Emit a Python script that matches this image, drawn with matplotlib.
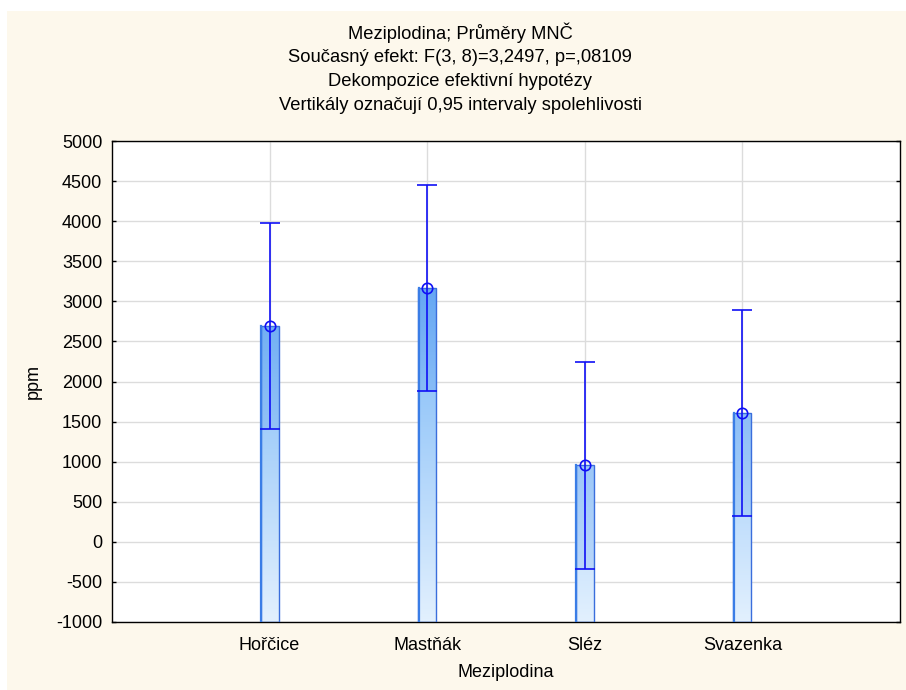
import numpy as np
import matplotlib
matplotlib.use("Agg")
import matplotlib.pyplot as plt
from matplotlib.colors import LinearSegmentedColormap, Normalize
from matplotlib.patches import Rectangle

plt.rcParams['font.family'] = ['Liberation Sans', 'DejaVu Sans']

# Least-squares means of ppm per cover crop with 0.95 confidence intervals
categories = ["Hořčice", "Mastňák", "Sléz", "Svazenka"]
means = [2690, 3165, 955, 1603]
ci_lower = [1406, 1882, -335, 320]
ci_upper = [3974, 4448, 2245, 2886]

title_lines = [
    "Meziplodina; Průměry MNČ",
    "Současný efekt: F(3, 8)=3,2497, p=,08109",
    "Dekompozice efektivní hypotézy",
    "Vertikály označují 0,95 intervaly spolehlivosti",
]
y_ticks = list(range(-1000, 5001, 500))

fig = plt.figure(figsize=(9.06, 6.90), dpi=100, facecolor='white')
# cream panel behind the whole chart
fig.patches.append(Rectangle((7 / 906, 0), 1 - 7 / 906, 1 - 11 / 690, transform=fig.transFigure,
                             facecolor='#fdf8ec', edgecolor='none', zorder=-10))

ax = fig.add_axes([112 / 906, 68 / 690, 788 / 906, 481 / 690])
ax.set_zorder(1)
ax.set_facecolor('white')

ymin, ymax = -1000, 5000
ax.set_xlim(0, len(categories) + 1)
ax.set_ylim(ymin, ymax)

cmap = LinearSegmentedColormap.from_list('bar_grad', ['#e2f0fe', '#94c6f9', '#3a8ef1'])
norm = Normalize(vmin=ymin, vmax=ymax)

xs = np.arange(1, len(categories) + 1)
bw = 0.115
for x, m, lo, hi in zip(xs, means, ci_lower, ci_upper):
    grad = np.linspace(ymin, m, 200).reshape(-1, 1)
    ax.imshow(grad, cmap=cmap, norm=norm, origin='lower', aspect='auto',
              extent=[x - bw / 2, x + bw / 2, ymin, m], zorder=2, interpolation='bilinear')
    # slightly darker fill on the part between lower limit and mean
    ax.add_patch(Rectangle((x - bw / 2, lo), bw, m - lo, facecolor='#1f70e6', alpha=0.13,
                           edgecolor='none', zorder=3))
    ax.add_patch(Rectangle((x - bw / 2, ymin), bw, m - ymin, facecolor='none',
                           edgecolor='#3a6edc', linewidth=1.0, zorder=4))
    ax.plot([x - bw / 2 + 0.004, x - bw / 2 + 0.004], [ymin, m], color='#3a7de6', lw=1.6, zorder=4)

ax.errorbar(xs, means, yerr=[np.array(means) - np.array(ci_lower), np.array(ci_upper) - np.array(means)],
            fmt='o', mfc='none', mec='#1010f5', ms=7.5, mew=1.2, ecolor='#1010f5',
            elinewidth=1.2, capsize=7.5, capthick=1.2, zorder=5)

ax.set_yticks(y_ticks)
ax.set_yticklabels([str(v) for v in y_ticks])
ax.set_xticks(xs)
ax.set_xticklabels(categories)
ax.grid(True, color='#dcdcdc', linewidth=1.0, zorder=0)
ax.set_axisbelow(True)
ax.tick_params(direction='in', length=3, width=1, labelsize=13, colors='black',
               top=False, right=True)
ax.tick_params(axis='y', pad=7)
ax.tick_params(axis='x', pad=11)
for s in ax.spines.values():
    s.set_color('black')
    s.set_linewidth(1.0)

ax.set_xlabel("Meziplodina", fontsize=13, labelpad=7)
ax.set_ylabel("ppm", fontsize=13, labelpad=10)

ty = [33, 57, 81, 105]
for t, yy in zip(title_lines, ty):
    fig.text(460 / 906, 1 - yy / 690, t, ha='center', va='center', fontsize=13.2)

fig.savefig("out.png", dpi=100, facecolor=fig.get_facecolor())
